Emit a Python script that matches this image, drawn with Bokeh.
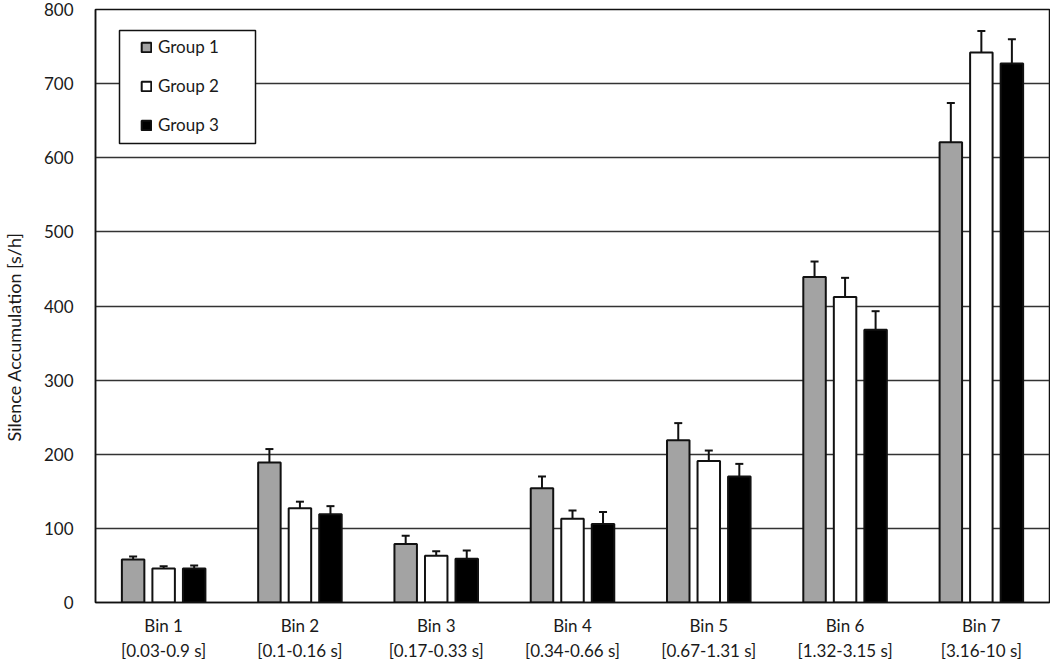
import math
from bokeh.plotting import figure
from bokeh.models import (FactorRange, Range1d, ColumnDataSource, Whisker, TeeHead,
                          Legend, LegendItem, BoxAnnotation, Title, FixedTicker)
from bokeh.transform import dodge
from bokeh.embed import file_html
from bokeh.resources import INLINE

bins = ["Bin 1\n[0.03-0.9 s]", "Bin 2\n[0.1-0.16 s]", "Bin 3\n[0.17-0.33 s]",
        "Bin 4\n[0.34-0.66 s]", "Bin 5\n[0.67-1.31 s]", "Bin 6\n[1.32-3.15 s]",
        "Bin 7\n[3.16-10 s]"]
group_names = ["Group 1", "Group 2", "Group 3"]
group1 = [58, 189, 79, 154, 219, 439, 621]
group1_err = [4, 18, 11, 16, 23, 21, 53]
group2 = [46, 127, 63, 113, 191, 412, 742]
group2_err = [3, 9, 6, 11, 14, 26, 29]
group3 = [46, 119, 59, 106, 170, 368, 727]
group3_err = [4, 11, 11, 16, 17, 25, 33]
y_ticks = [0, 100, 200, 300, 400, 500, 600, 700, 800]
y_label = "Silence Accumulation [s/h]"

FONT = "Lato"
INK = "#111111"
TXT = "#1a1a1a"

src = ColumnDataSource(dict(
    x=bins,
    g1=group1, g1_hi=[v + e for v, e in zip(group1, group1_err)],
    g2=group2, g2_hi=[v + e for v, e in zip(group2, group2_err)],
    g3=group3, g3_hi=[v + e for v, e in zip(group3, group3_err)],
))

p = figure(width=1050, height=663, x_range=FactorRange(*bins), y_range=Range1d(0, 800),
           output_backend="svg", toolbar_location=None,
           min_border_left=94, min_border_right=1, min_border_top=9, min_border_bottom=20)

p.outline_line_color = INK
p.outline_line_width = 1.5
p.xgrid.visible = False
p.ygrid.grid_line_color = "#333333"
p.ygrid.grid_line_width = 1.5
p.yaxis.ticker = FixedTicker(ticks=y_ticks)

for ax in (p.xaxis[0], p.yaxis[0]):
    ax.major_tick_line_color = None
    ax.minor_tick_line_color = None
    ax.axis_line_color = INK
    ax.axis_line_width = 1.5
    ax.major_label_text_font = FONT
    ax.major_label_text_color = TXT
p.yaxis.major_label_text_font_size = "17px"
p.yaxis.major_label_standoff = 16
# spacer between tick labels and the rotated axis title
p.yaxis.axis_label = "\u00a0"
p.yaxis.axis_label_text_font_size = "2px"
p.yaxis.axis_label_standoff = 7
p.xaxis.major_label_text_font_size = "17px"
p.xaxis.major_label_standoff = 6

offsets = [-0.224, 0.0, 0.224]
fills = ["#a3a3a3", "#ffffff", "#000000"]
keys = ["g1", "g2", "g3"]
renderers = []
for off, fc, k in zip(offsets, fills, keys):
    r = p.vbar(x=dodge("x", off, range=p.x_range), top=k, width=0.165, source=src,
               fill_color=fc, line_color=INK, line_width=2)
    renderers.append(r)
    w = Whisker(source=src, base=dodge("x", off, range=p.x_range), lower=k, upper=k + "_hi",
                dimension="height", line_width=2, line_color=INK, lower_head=None,
                upper_head=TeeHead(size=8, line_width=2, line_color=INK))
    p.add_layout(w)

BOX_TOP = 572
BOX_BOTTOM = 459
box = BoxAnnotation(left=24, right=160, top=BOX_TOP, bottom=BOX_BOTTOM,
                    left_units="screen", right_units="screen",
                    top_units="screen", bottom_units="screen",
                    fill_color="white", fill_alpha=1.0, line_color=INK, line_width=1.5,
                    line_alpha=1.0)
p.add_layout(box)

legend = Legend(items=[LegendItem(label=n, renderers=[r]) for n, r in zip(group_names, renderers)],
                location=(45, BOX_TOP - 105), glyph_width=12, glyph_height=12, label_height=20,
                spacing=18, padding=9, margin=0, border_line_color=None,
                background_fill_alpha=0, label_text_font=FONT, label_text_font_size="17px",
                label_standoff=6, label_text_color=TXT)
p.add_layout(legend)

ytitle = Title(text=y_label, align="left", offset=161, standoff=4, vertical_align="top",
               text_font=FONT, text_font_size="18px", text_font_style="normal",
               text_color=TXT)
p.add_layout(ytitle, "left")

open("out.html", "w").write(file_html(p, INLINE))
